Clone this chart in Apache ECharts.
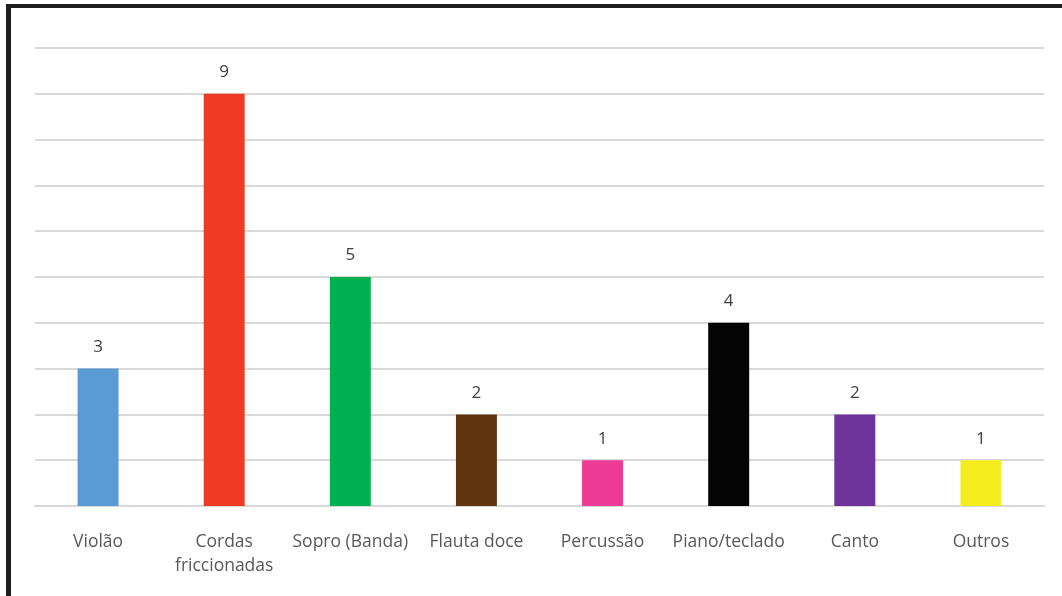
<!DOCTYPE html>
<html>
<head>
<meta charset="utf-8">
<script src="https://cdn.jsdelivr.net/npm/echarts@6/dist/echarts.min.js"></script>
<style>
  html, body { margin: 0; padding: 0; background: #ffffff; }
  #chart { width: 1062px; height: 596px; }
</style>
</head>
<body>
<div id="chart"></div>
<script>
// Instrument categories and counts
const categories = ['Violão', 'Cordas\nfriccionadas', 'Sopro (Banda)', 'Flauta doce', 'Percussão', 'Piano/teclado', 'Canto', 'Outros'];
const counts = [3, 9, 5, 2, 1, 4, 2, 1];
const barColors = ['#5b9bd5', '#ef3b24', '#00b050', '#623511', '#ec3a95', '#050505', '#6f339c', '#f4ec1c'];

const chart = echarts.init(document.getElementById('chart'), null, { renderer: 'canvas' });

chart.setOption({
  backgroundColor: '#ffffff',
  animation: false,
  grid: { left: 35, right: 18, top: 48, bottom: 90, containLabel: false },
  xAxis: {
    type: 'category',
    data: categories,
    axisLine: { show: true, lineStyle: { color: '#d9d9d9', width: 2 } },
    axisTick: { show: false },
    axisLabel: {
      color: '#595959',
      fontFamily: 'Open Sans',
      fontSize: 17.5,
      lineHeight: 24,
      margin: 24,
      interval: 0
    }
  },
  yAxis: {
    type: 'value',
    min: 0,
    max: 10,
    interval: 1,
    axisLabel: { show: false },
    axisLine: { show: false },
    axisTick: { show: false },
    splitLine: { lineStyle: { color: '#d9d9d9', width: 2 } }
  },
  series: [{
    type: 'bar',
    data: counts.map((v, i) => ({ value: v, itemStyle: { color: barColors[i] } })),
    barWidth: '32.5%',
    label: {
      show: true,
      position: 'top',
      distance: 13,
      color: '#404040',
      fontFamily: 'Open Sans',
      fontSize: 17
    }
  }],
  graphic: [
    // frame: heavy top and left rules
    { type: 'rect', shape: { x: 6, y: 4, width: 1056, height: 4 }, style: { fill: '#1e1e1e' }, silent: true },
    { type: 'rect', shape: { x: 6, y: 4, width: 5, height: 592 }, style: { fill: '#1e1e1e' }, silent: true }
  ]
});
</script>
</body>
</html>
